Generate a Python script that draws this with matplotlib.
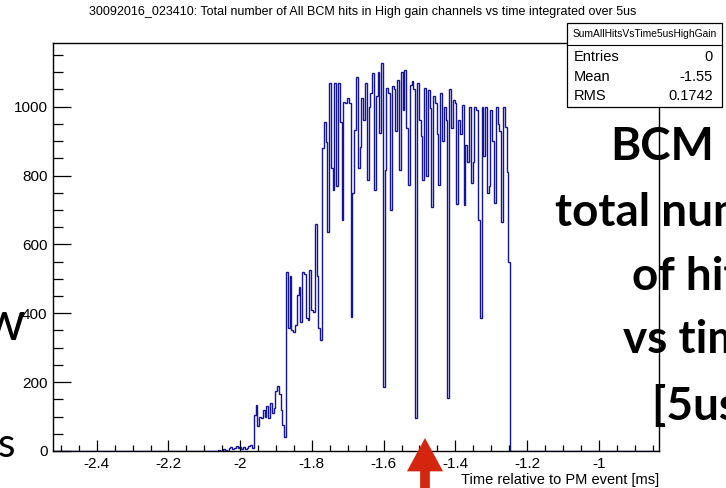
import numpy as np
import matplotlib
matplotlib.use("Agg")
import matplotlib.pyplot as plt
from matplotlib.ticker import MultipleLocator

# histogram binning (5 us bins, x in ms)
X_MIN, X_MAX = -2.522, -0.832
BIN_W = 0.005

# low-level noise before the burst
noise_start = -2.062
noise_counts = [2, 0, 0, 6, 3, 0, 8, 12, 5, 10, 14, 9, 11, 7, 12, 6, 10, 14, 16, 8]

# main burst, bins starting at burst_start
burst_start = -1.962
burst_counts = [
    105, 135, 72, 100, 95, 120, 100, 130, 95, 140, 110, 125, 175, 190, 165, 120, 75, 40,
    521, 357, 507, 350, 345, 366, 453, 477, 376, 521, 515, 386, 380, 526, 409, 405,
    658, 507, 357, 322, 880, 957, 897, 637, 1068, 821, 758, 1068, 770, 1068, 957, 671, 1015,
    1010, 1025, 1010, 390, 749, 932, 1087, 821, 884, 1025, 960, 1068, 787, 1000, 1040, 1097,
    758, 1030, 1100, 923, 1127, 187, 816, 1054, 1040, 700, 1060, 1050, 929, 1078, 816, 1100, 990,
    1107, 938, 773, 1063, 1075, 1050, 96, 1070, 960, 914, 787, 1054, 800, 1049, 997, 709,
    1030, 1010, 920, 773, 1040, 900, 1000, 960, 154, 1050, 938, 1020, 1010, 716, 960, 920,
    1005, 714, 889, 840, 1000, 778, 840, 1000, 990, 671, 386, 1000, 857, 1000, 749, 770,
    990, 900, 719, 1000, 950, 930, 665, 1000, 940, 811, 550,
]

title = "30092016_023410: Total number of All BCM hits in High gain channels vs time integrated over 5us"
xlabel = "Time relative to PM event [ms]"
stat_name = "SumAllHitsVsTime5usHighGain"
stat_rows = [("Entries", "0"), ("Mean", "-1.55"), ("RMS", "0.1742")]
slide_lines = ["BCM", "total number", "of hits", "vs time", "[5us bins]"]

nbins = int(round((X_MAX - X_MIN) / BIN_W))
edges = X_MIN + np.arange(nbins + 1) * BIN_W
counts = np.zeros(nbins)
i0 = int(round((noise_start - X_MIN) / BIN_W))
counts[i0:i0 + len(noise_counts)] = noise_counts
i1 = int(round((burst_start - X_MIN) / BIN_W))
counts[i1:i1 + len(burst_counts)] = burst_counts

W, H = 726, 488
fig = plt.figure(figsize=(W / 100, H / 100), dpi=100)
ax = fig.add_axes([53 / W, 1 - 451 / H, (659 - 53) / W, (451 - 43) / H])
narrow = ["Liberation Sans Narrow", "Liberation Sans", "DejaVu Sans"]
slide = ["Lato", "DejaVu Sans"]

ax.stairs(counts, edges, color="#14149a", lw=1.0)
ax.set_xlim(X_MIN, X_MAX)
ax.set_ylim(0, 1185)
ax.xaxis.set_major_locator(MultipleLocator(0.2))
ax.xaxis.set_minor_locator(MultipleLocator(0.05))
ax.yaxis.set_major_locator(MultipleLocator(200))
ax.yaxis.set_minor_locator(MultipleLocator(50))
ax.tick_params(axis="both", which="both", direction="in", top=False, right=False)
ax.tick_params(axis="x", which="major", length=8, width=0.9, pad=4)
ax.tick_params(axis="x", which="minor", length=4.3, width=0.9)
ax.tick_params(axis="y", which="major", length=13, width=0.9, pad=4)
ax.tick_params(axis="y", which="minor", length=7, width=0.9)
ax.xaxis.set_major_formatter(plt.FuncFormatter(lambda v, p: f"{v:g}"))
for lab in ax.get_xticklabels() + ax.get_yticklabels():
    lab.set_family(narrow)
    lab.set_fontsize(11)
for s in ax.spines.values():
    s.set_linewidth(1.0)

ax.set_xlabel(xlabel, family=narrow, fontsize=10.5, ha="right", x=1.0, labelpad=2)

fig.text(0.5, 1 - 12 / H, title, ha="center", va="center", family=narrow, fontsize=9)


def px(x, y):
    return x / W, 1 - y / H


# stats box
bx0, by0, bx1, by1 = 567, 23, 722, 107
fig.patches.append(plt.Rectangle(px(bx0, by1), (bx1 - bx0) / W, (by1 - by0) / H,
                                 transform=fig.transFigure, fc="white", ec="black", lw=0.9, zorder=5))
fig.add_artist(plt.Line2D([bx0 / W, bx1 / W], [1 - 45 / H] * 2, transform=fig.transFigure,
                          color="black", lw=0.8, zorder=6))
fig.text(*px((bx0 + bx1) / 2, 34), stat_name, ha="center", va="center", family=narrow,
         fontsize=7.4, zorder=7)
for (k, v), yy in zip(stat_rows, [57, 77, 96]):
    fig.text(*px(574, yy), k, ha="left", va="center", family=narrow, fontsize=10.5, zorder=7)
    fig.text(*px(713, yy), v, ha="right", va="center", family=narrow, fontsize=10.5, zorder=7)

# slide overlay text
for line, xl, yb in zip(slide_lines, [610, 555, 632, 623, 652], [160, 226, 290, 353, 420]):
    fig.text(*px(xl, yb), line, ha="left", va="baseline", family=slide,
             fontweight="bold", fontsize=33, zorder=8)
fig.text(*px(25, 340), "w", ha="right", va="baseline", family=slide, fontsize=39, zorder=8)
fig.text(*px(15, 457), "s", ha="right", va="baseline", family=slide, fontsize=29, zorder=8)

# red arrow
ax.annotate("", xy=(425, H - 438), xytext=(425, -10), xycoords="figure pixels",
            textcoords="figure pixels", annotation_clip=False,
            arrowprops=dict(facecolor="#d4260f", edgecolor="none", width=7,
                            headwidth=26, headlength=24))

fig.savefig("out.png", dpi=100)
